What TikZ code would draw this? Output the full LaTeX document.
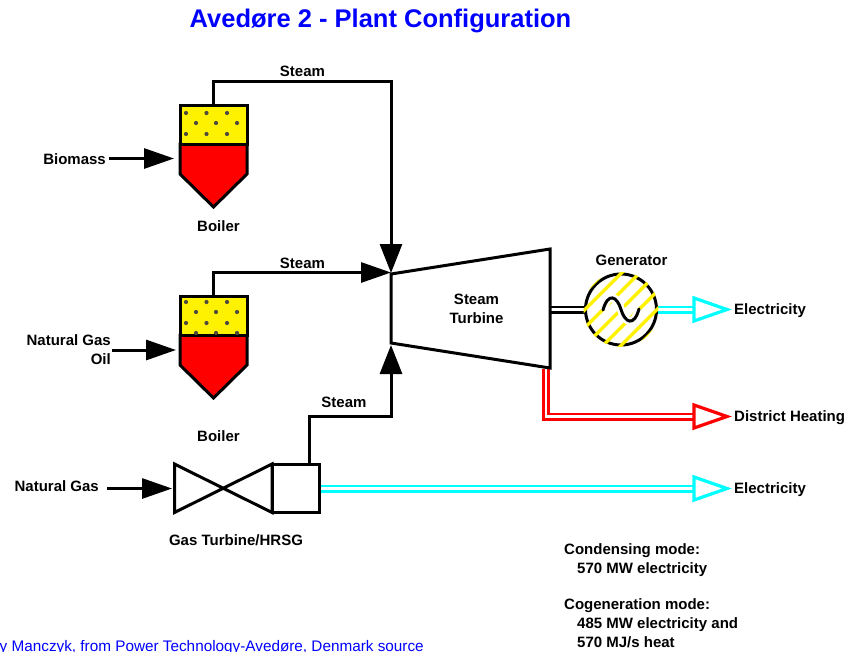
\documentclass[tikz,border=0pt]{standalone}
\usepackage{fontspec}
\setmainfont{Liberation Sans}
\usetikzlibrary{arrows.meta}
\definecolor{cy}{RGB}{0,255,255}
\definecolor{blu}{RGB}{0,0,255}
\tikzset{
 lbl/.style={font=\fontsize{15}{19}\selectfont\bfseries,inner sep=0pt,align=center},
 boxln/.style={draw=black,line width=3pt,line join=miter},
 plain/.style={draw=black,line width=3pt},
 headv/.style={-{Triangle[length=29pt,width=22pt]}},
 headh/.style={-{Triangle[length=30pt,width=20pt]}},
 openhead/.style={line width=3.2pt,fill=white,line join=miter},
 dbl/.style={line width=8pt},
 dblin/.style={line width=2.2pt,draw=white},
 dotm/.style={fill=black!80!yellow,circle,inner sep=0pt,minimum size=4.2pt}
}
\begin{document}
\begin{tikzpicture}[x=1pt,y=-1pt]
\useasboundingbox (0,0) rectangle (848,651);
% title
\node[font=\fontsize{25.5}{30}\selectfont\bfseries,text=blu,inner sep=0pt] (title) at (380.5,21) {Avedøre 2 - Plant Configuration};
% coordinates
\coordinate (b1top) at (213.5,105);
\coordinate (b2top) at (213.5,296);
\coordinate (tinA) at (391,273);
\coordinate (tinS) at (391,272.5);
\coordinate (tinB) at (391,345);
\coordinate (gtTop) at (309.5,464);
\coordinate (genL) at (585,309.5);
\coordinate (genR) at (657,309.5);
\coordinate (elecA) at (694,309.5);
\coordinate (turbR) at (550,309.5);
\coordinate (dhS) at (546,369);
\coordinate (dhA) at (694,416.5);
\coordinate (gtR) at (319,488.5);
\coordinate (elecB) at (694,488.5);
% double lines
\draw[dbl,black] (turbR)--(genL);
\draw[dblin] (turbR)--(genL);
\draw[dbl,cy] (genR)--(elecA);
\draw[dblin] (genR)--(elecA);
\draw[dbl,red,line join=miter] (dhS)|-(dhA);
\draw[dblin,line join=miter] (dhS)|-(dhA);
\draw[dbl,cy] (gtR)--(elecB);
\draw[dblin] (gtR)--(elecB);
% open arrow heads
\draw[openhead,draw=cy] (694,298)--(727,309.5)--(694,321)--cycle;
\draw[openhead,draw=red] (694,405)--(727,416.5)--(694,428)--cycle;
\draw[openhead,draw=cy] (694,477)--(727,488.5)--(694,500)--cycle;
% turbine
\draw[boxln,fill=white] (391,274)--(550,249)--(550,368)--(391,343)--cycle;
\node[lbl] (tl) at (476.5,308.5) {Steam\\Turbine};
% connectors with solid heads
\draw[plain,headv] (b1top)--(213.5,81.5)-|(tinA);
\draw[plain,headh] (b2top)--(213.5,272.5)--(tinS);
\draw[plain,headv] (gtTop)--(309.5,416.5)-|(tinB);
% boilers
\draw[boxln,fill=red] (180,144)--(247,144)--(247,174)--(213.5,207)--(180,174)--cycle;
\draw[boxln,fill=yellow] (180,105) rectangle (247,144);
\foreach \x/\y in {186/113,206.5/113,227/113,196/123,216/123,237/123,186/134,206.5/134,227/134}
  \node[dotm] at (\x,\y) {};
\draw[boxln,fill=red] (180,335)--(247,335)--(247,365)--(213.5,398)--(180,365)--cycle;
\draw[boxln,fill=yellow] (180,296) rectangle (247,335);
\foreach \x/\y in {186/302,206.5/302,227/302,196/312,216/312,237/312,186/323,206.5/323,227/323,196/333,216/333,237/333}
  \node[dotm] at (\x,\y) {};
% generator
\node[circle,draw=black,line width=3pt,fill=white,minimum size=71pt,inner sep=0pt] (gen) at (621,309.5) {};
\begin{scope}
\clip (621,309.5) circle (37.5);
\foreach \k in {-6,...,6}{
  \draw[yellow,line width=3.4pt] ({621+\k*18-60},{309.5+60})--({621+\k*18+60},{309.5-60});
}
\end{scope}
\draw[white,line width=8pt] (603,310) .. controls (608,292) and (617,296) .. (621,309.5) .. controls (625,323) and (634,327) .. (639,309);
\draw[black,line width=3pt,line cap=round] (603,310) .. controls (608,292) and (617,296) .. (621,309.5) .. controls (625,323) and (634,327) .. (639,309);
% gas turbine
\draw[boxln,fill=white] (272,464) rectangle (319,512.5);
\draw[boxln] (174.5,464)--(272,512.5)--(272,464)--(174.5,512.5)--cycle;
% input arrows
\coordinate (gin) at (107,488.5);
\coordinate (biomA) at (109,158.5);
\coordinate (b1L) at (174,158.5);
\coordinate (ngA) at (112,350);
\coordinate (b2L) at (176,350);
\coordinate (gtL) at (172,488.5);
\draw[plain,headh] (biomA)--(b1L);
\draw[plain,headh] (ngA)--(b2L);
\draw[plain,headh] (gin)--(gtL);
% labels
\node[lbl] (s1) at (302.5,71) {Steam};
\node[lbl] (s2) at (302.5,263) {Steam};
\node[lbl] (s3) at (344,402) {Steam};
\node[lbl] (l1) at (218.5,226) {Boiler};
\node[lbl] (l2) at (218.5,436) {Boiler};
\node[lbl,anchor=east] (l3) at (106,159) {Biomass};
\node[lbl,align=right,anchor=east] (l4) at (111,350) {Natural Gas\\Oil};
\node[lbl,anchor=east] (l5) at (99,486) {Natural Gas};
\node[lbl] (l6) at (236,540) {Gas Turbine/HRSG};
\node[lbl] (l7) at (631.5,260) {Generator};
\node[lbl,anchor=west] (e1) at (734,310.5) {Electricity};
\node[lbl,anchor=west] (e2) at (734,417.5) {District Heating};
\node[lbl,anchor=west] (e3) at (734,489.5) {Electricity};
\node[lbl,anchor=north west,align=left] (n1) at (564,543.5) {Condensing mode:\\\hspace*{13pt}570 MW electricity};
\node[lbl,anchor=north west,align=left] (n2) at (564,598.5) {Cogeneration mode:\\\hspace*{13pt}485 MW electricity and\\\hspace*{13pt}570 MJ/s heat};
\begin{scope}
\clip (0,0) rectangle (848,651);
\node[font=\fontsize{15.3}{18}\selectfont,text=blu,inner sep=0pt,anchor=base west] (src) at (-9,651) {by Manczyk, from Power Technology-Avedøre, Denmark source};
\end{scope}
\end{tikzpicture}
\end{document}
